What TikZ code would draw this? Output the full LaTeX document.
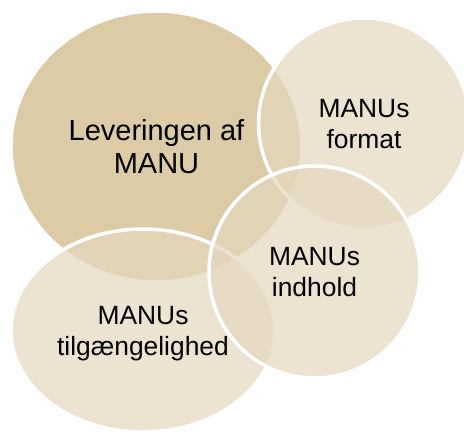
\documentclass[tikz,border=0pt]{standalone}
\usepackage{fontspec}
\setmainfont{Liberation Sans}
\usetikzlibrary{shapes.geometric}
\definecolor{sandDark}{RGB}{220,203,164}
\definecolor{sandLight}{RGB}{229,215,189}

\begin{document}
\begin{tikzpicture}[x=1pt,y=-1pt,
    bubble/.style={ellipse,draw=white,line width=3.5pt,inner sep=0pt,align=center,text depth=0pt,text=black,text opacity=1},
    bigbubble/.style={bubble,fill=sandDark,font=\fontsize{29}{33}\selectfont},
    smallbubble/.style={bubble,fill=sandLight,fill opacity=0.7,font=\fontsize{26.4}{31}\selectfont}]
  \useasboundingbox (0,0) rectangle (464,432);
  \clip (0,0) rectangle (464,432);
  \node[bigbubble,minimum width=291pt,minimum height=271pt] (lev) at (156.5,146.5) {Leveringen af\\MANU};
  \node[smallbubble,minimum width=211pt,minimum height=211pt] (fmt) at (364,123.5) {MANUs\\format};
  \node[smallbubble,minimum width=264pt,minimum height=203pt] (tilg) at (143,330.5) {MANUs\\tilgængelighed};
  \node[smallbubble,minimum width=211pt,minimum height=212pt] (indh) at (314.5,272) {MANUs\\indhold};
\end{tikzpicture}
\end{document}
